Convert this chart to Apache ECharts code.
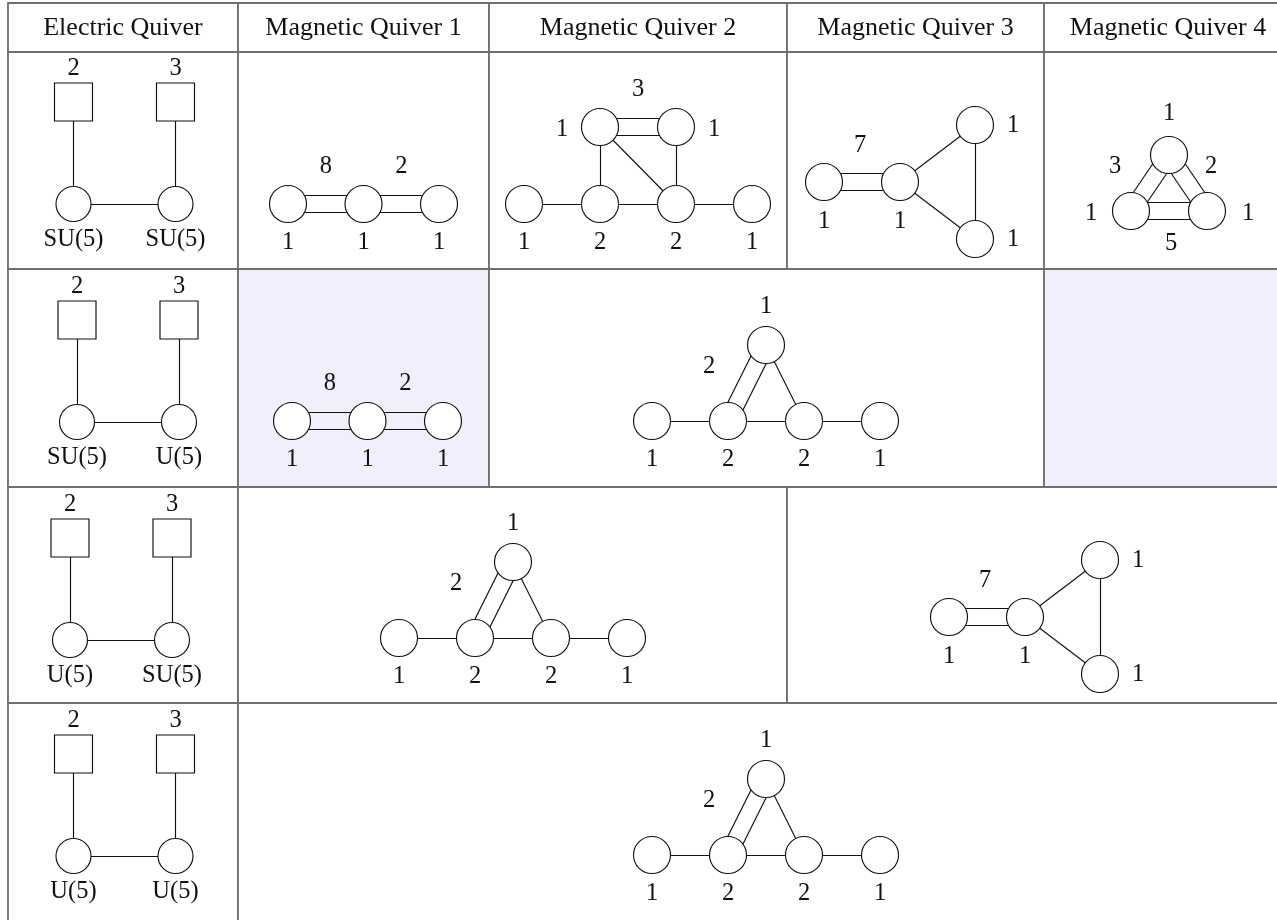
<!DOCTYPE html>
<html><head><meta charset="utf-8">
<script src="https://cdn.jsdelivr.net/npm/echarts@6/dist/echarts.min.js"></script>
<style>html,body{margin:0;padding:0;background:#fff;} #c{width:1277px;height:920px;}</style>
</head><body><div id="c"></div>
<script>
// ---------------- data ----------------
const headers = ['Electric Quiver', 'Magnetic Quiver 1', 'Magnetic Quiver 2', 'Magnetic Quiver 3', 'Magnetic Quiver 4'];
const flavorRanks = [2, 3];
const gaugeGroups = [['SU(5)', 'SU(5)'], ['SU(5)', 'U(5)'], ['U(5)', 'SU(5)'], ['U(5)', 'U(5)']];
const mq1NodeRanks = [1, 1, 1];
const mq1EdgeMult = [8, 2];
const mq2aBottomRanks = [1, 2, 2, 1];
const mq2aTopRanks = [1, 1];
const mq2aEdgeMult = 3;
const mq2bBottomRanks = [1, 2, 2, 1];
const mq2bTopRank = 1;
const mq2bEdgeMult = 2;
const mq3NodeRanks = [1, 1, 1, 1];   // left, middle, upper, lower
const mq3EdgeMult = 7;
const mq4NodeRanks = [1, 1, 1];      // top, left, right
const mq4EdgeMult = [3, 2, 5];       // top-left, top-right, left-right

// ---------------- layout ----------------
const W = 1277, H = 920;
const colX = [8, 238, 489, 787, 1044, 1292];
const rowY = [3, 52, 269, 487, 703, 935];
const cellSpans = [ // [c0, c1, r0, r1, shaded]
  [0,1,0,1,0],[1,2,0,1,0],[2,3,0,1,0],[3,4,0,1,0],[4,5,0,1,0],
  [0,1,1,2,0],[1,2,1,2,0],[2,3,1,2,0],[3,4,1,2,0],[4,5,1,2,0],
  [0,1,2,3,0],[1,2,2,3,1],[2,4,2,3,0],[4,5,2,3,1],
  [0,1,3,4,0],[1,3,3,4,0],[3,5,3,4,0],
  [0,1,4,5,0],[1,5,4,5,0]
];
const FS = 24.5, HFS = 26, FONT = '"Liberation Serif","DejaVu Serif",serif';
const ENODE = 35, MNODE = 37, SQ = 38, HALF = 8.5;

const eCircles = [], mCircles = [], squares = [], edges = [], texts = [];
function txt(x, y, s, size) { texts.push({x, y, s: String(s), size: size || FS}); }
function edge(p, q, mult) {
  if (mult > 1) {
    const dx = q[0] - p[0], dy = q[1] - p[1], L = Math.hypot(dx, dy);
    const nx = -dy / L * HALF, ny = dx / L * HALF;
    edges.push([[p[0] + nx, p[1] + ny], [q[0] + nx, q[1] + ny]]);
    edges.push([[p[0] - nx, p[1] - ny], [q[0] - nx, q[1] - ny]]);
  } else edges.push([p, q]);
}

// electric quivers
function electric(x0, yc, groups) {
  const xs = [x0, x0 + 102];
  const cs = xs.map(x => [x, yc]);
  edge(cs[0], cs[1], 1);
  xs.forEach((x, i) => {
    const s = [x, yc - 102];
    edge(s, cs[i], 1);
    squares.push(s); eCircles.push(cs[i]);
    txt(x, yc - 135, flavorRanks[i]);
    txt(x, yc + 36, groups[i]);
  });
}
function mq1(x0, y) {
  const ns = [0, 1, 2].map(k => [x0 + 75.5 * k, y]);
  for (let k = 0; k < 2; k++) { edge(ns[k], ns[k + 1], 2); txt((ns[k][0] + ns[k + 1][0]) / 2, y - 37, mq1EdgeMult[k]); }
  ns.forEach((n, k) => { mCircles.push(n); txt(n[0], y + 39, mq1NodeRanks[k]); });
}
function mq2a(x0, y) {
  const b = [0, 1, 2, 3].map(k => [x0 + 76 * k, y]);
  const t = [[x0 + 76, y - 77], [x0 + 152, y - 77]];
  edge(b[0], b[1], 1); edge(b[1], b[2], 1); edge(b[2], b[3], 1);
  edge(t[0], t[1], 2); edge(t[0], b[1], 1); edge(t[1], b[2], 1); edge(t[0], b[2], 1);
  b.forEach((n, k) => { mCircles.push(n); txt(n[0], y + 39, mq2aBottomRanks[k]); });
  t.forEach(n => mCircles.push(n));
  txt(x0 + 114, y - 114, mq2aEdgeMult);
  txt(t[0][0] - 38, y - 74, mq2aTopRanks[0]);
  txt(t[1][0] + 38, y - 74, mq2aTopRanks[1]);
}
function mq2b(x0, y) {
  const b = [0, 1, 2, 3].map(k => [x0 + 76 * k, y]);
  const t = [x0 + 114, y - 76];
  edge(b[0], b[1], 1); edge(b[1], b[2], 1); edge(b[2], b[3], 1);
  edge(t, b[1], 2); edge(t, b[2], 1);
  b.forEach((n, k) => { mCircles.push(n); txt(n[0], y + 39, mq2bBottomRanks[k]); });
  mCircles.push(t);
  txt(t[0], y - 114, mq2bTopRank);
  txt(x0 + 57, y - 54, mq2bEdgeMult);
}
function mq3(x0, y) {
  const L = [x0, y], M = [x0 + 76, y], U = [x0 + 151, y - 57], D = [x0 + 151, y + 57];
  edge(L, M, 2); edge(M, U, 1); edge(M, D, 1); edge(U, D, 1);
  [L, M, U, D].forEach(n => mCircles.push(n));
  txt(x0 + 36, y - 36, mq3EdgeMult);
  txt(L[0], y + 40, mq3NodeRanks[0]);
  txt(M[0], y + 40, mq3NodeRanks[1]);
  txt(x0 + 189, U[1] + 1, mq3NodeRanks[2]);
  txt(x0 + 189, D[1] + 1, mq3NodeRanks[3]);
}
function mq4(cx, y) {
  const T = [cx, y - 56], A = [cx - 38, y], B = [cx + 38, y];
  edge(T, A, 2); edge(T, B, 2); edge(A, B, 2);
  [T, A, B].forEach(n => mCircles.push(n));
  txt(cx, y - 97, mq4NodeRanks[0]);
  txt(cx - 78, y + 3, mq4NodeRanks[1]);
  txt(cx + 79, y + 3, mq4NodeRanks[2]);
  txt(cx - 54, y - 44, mq4EdgeMult[0]);
  txt(cx + 42, y - 44, mq4EdgeMult[1]);
  txt(cx + 2, y + 33, mq4EdgeMult[2]);
}

headers.forEach((h, i) => txt((colX[i] + colX[i + 1]) / 2, 28, h, HFS));
electric(73.5, 204, gaugeGroups[0]);
electric(77, 422, gaugeGroups[1]);
electric(70, 640, gaugeGroups[2]);
electric(73.5, 856, gaugeGroups[3]);
mq1(288, 204);
mq1(292, 421);
mq2a(524, 204);
mq3(824, 182);
mq4(1169, 211);
mq2b(652, 421);
mq2b(399, 638);
mq3(949, 617);
mq2b(652, 855);

// ---------------- chart ----------------
const nodeStyle = {color: '#fff', borderColor: '#111', borderWidth: 1.15, opacity: 1};
const chart = echarts.init(document.getElementById('c'), null, {renderer: 'canvas', width: W, height: H});
chart.setOption({
  animation: false,
  backgroundColor: '#fff',
  grid: {left: 0, right: 0, top: 0, bottom: 0},
  xAxis: {type: 'value', min: 0, max: W, show: false},
  yAxis: {type: 'value', min: 0, max: H, inverse: true, show: false},
  series: [
    {
      type: 'custom', z: 1, silent: true, clip: false,
      encode: {x: [0, 2], y: [1, 3]},
      data: cellSpans.map(c => [colX[c[0]], rowY[c[2]], colX[c[1]], rowY[c[3]], c[4]]),
      renderItem: function (params, api) {
        const p0 = api.coord([api.value(0), api.value(1)]);
        const p1 = api.coord([api.value(2), api.value(3)]);
        return {type: 'rect', shape: {x: p0[0], y: p0[1], width: p1[0] - p0[0], height: p1[1] - p0[1]},
          style: {fill: api.value(4) ? '#f0f0fc' : '#ffffff', stroke: '#6f6f6f', lineWidth: 1.8}};
      }
    },
    {
      type: 'lines', coordinateSystem: 'cartesian2d', z: 2, silent: true,
      data: edges.map(e => ({coords: e})),
      lineStyle: {color: '#111', width: 1.15, opacity: 1}
    },
    {type: 'scatter', z: 3, silent: true, symbol: 'circle', symbolSize: ENODE, data: eCircles, itemStyle: nodeStyle},
    {type: 'scatter', z: 3, silent: true, symbol: 'circle', symbolSize: MNODE, data: mCircles, itemStyle: nodeStyle},
    {type: 'scatter', z: 3, silent: true, symbol: 'rect', symbolSize: SQ, data: squares, itemStyle: nodeStyle},
    {
      type: 'custom', z: 4, silent: true, clip: false,
      data: texts.map(t => [t.x, t.y]),
      renderItem: function (params, api) {
        const t = texts[params.dataIndex];
        const p = api.coord([api.value(0), api.value(1)]);
        return {type: 'text', style: {text: t.s, x: p[0], y: p[1], fill: '#111',
          fontSize: t.size, fontFamily: FONT, align: 'center', verticalAlign: 'middle'}};
      }
    }
  ]
});
</script></body></html>
